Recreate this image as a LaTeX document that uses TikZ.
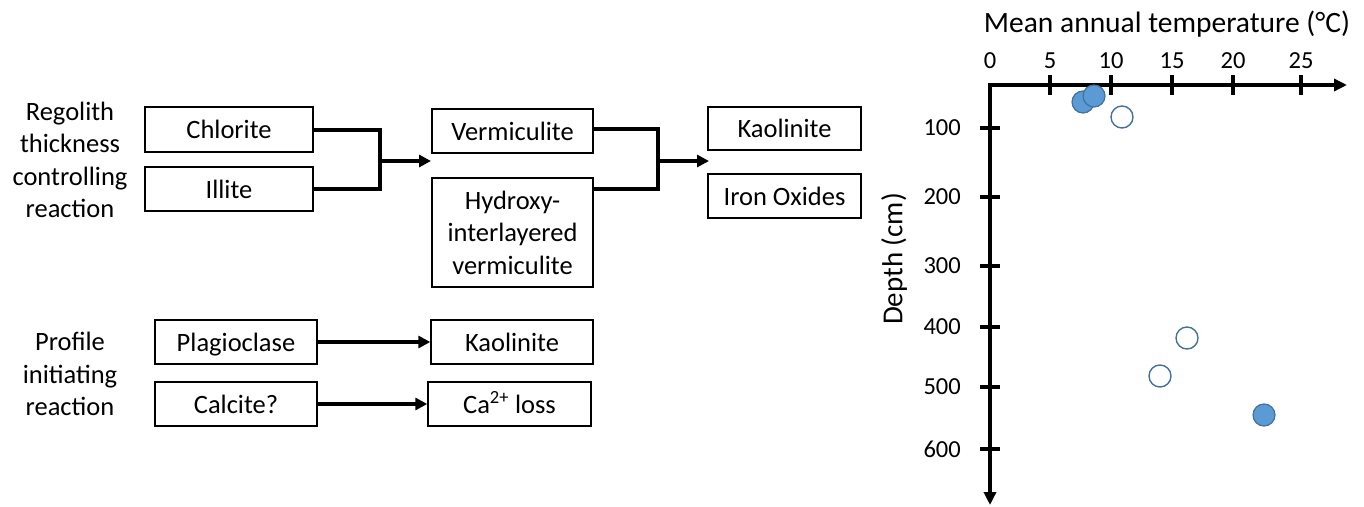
\documentclass[tikz,border=0pt]{standalone}
\usepackage{fontspec}
\setmainfont{Carlito}
\usetikzlibrary{arrows.meta}
\definecolor{ptfill}{HTML}{5B9BD5}
\definecolor{ptline}{HTML}{41719C}
\tikzset{
  box/.style={draw=black, line width=1.4pt, inner sep=0pt, align=center, font=\fontsize{26.5}{32.5}\selectfont},
  oneline/.style={text height=18pt, text depth=0pt},
  lbl/.style={align=center, inner sep=0pt, font=\fontsize{26.5}{32.5}\selectfont},
  conn/.style={line width=4pt},
  arr/.style={line width=4pt, -{Triangle[length=12pt,width=12pt]}},
  axis/.style={line width=4pt},
  tick/.style={line width=3.6pt},
  ticklbl/.style={inner sep=0pt, font=\fontsize{24.5}{28}\selectfont},
  filled/.style={circle, draw=ptline, fill=ptfill, line width=1.2pt, minimum size=22pt, inner sep=0pt},
  hollow/.style={circle, draw=ptline, fill=white, line width=1.4pt, minimum size=22pt, inner sep=0pt}
}
\begin{document}
\begin{tikzpicture}[x=1pt,y=-1pt]
\useasboundingbox (0,0) rectangle (1364,506);
% left labels
\node[lbl] (lab1) at (70,160) {Regolith\\thickness\\controlling\\reaction};
\node[lbl] (lab2) at (70,374) {Profile\\initiating\\reaction};
% top flow boxes
\node[box, oneline, minimum width=168pt, minimum height=45pt] (chl) at (229,129.5) {Chlorite};
\node[box, oneline, minimum width=168pt, minimum height=44pt] (ill) at (229,189) {Illite};
\node[box, oneline, minimum width=161pt, minimum height=44pt] (ver) at (512.5,131) {Vermiculite};
\node[box, minimum width=161pt, minimum height=109pt] (hyd) at (512.5,232.5) {Hydroxy-\\interlayered\\vermiculite};
\node[box, oneline, minimum width=153pt, minimum height=43pt] (kao1) at (784.5,128.5) {Kaolinite};
\node[box, oneline, minimum width=153pt, minimum height=44pt] (iron) at (784.5,196) {Iron Oxides};
% bottom flow boxes
\node[box, oneline, minimum width=162pt, minimum height=44pt] (pla) at (236,342) {Plagioclase};
\node[box, oneline, minimum width=162pt, minimum height=44pt] (cal) at (236,404) {Calcite?};
\node[box, oneline, minimum width=162pt, minimum height=44pt] (kao2) at (512,342) {Kaolinite};
\node[box, oneline, minimum width=163pt, minimum height=44pt] (ca) at (509.5,404) {Ca\textsuperscript{2+} loss};
% connectors
\coordinate (j1) at (380,161);
\coordinate (t1) at (431,161);
\draw[conn] (chl.east) -| (j1) |- (ill.east);
\draw[arr] (j1) -- (t1);
\coordinate (v1) at (593,129);
\coordinate (h1) at (593,189);
\coordinate (j2) at (658,161);
\coordinate (t2) at (709,161);
\draw[conn] (v1) -| (j2) |- (h1);
\draw[arr] (j2) -- (t2);
\draw[arr] (pla.east) -- (kao2.west);
\draw[arr] (cal.east) -- (ca.west);
% chart
\coordinate (o) at (990,85);
\coordinate (xe) at (1347,85);
\coordinate (ye) at (990,505);
\draw[axis, -{Triangle[length=13pt,width=12pt]}] ([xshift=-2pt]o) -- (xe);
\draw[axis, -{Triangle[length=13pt,width=12pt]}] ([yshift=-2pt]o) -- (ye);
\foreach \x/\t in {1050/5,1111/10,1172/15,1233/20,1301/25}{
  \draw[tick] (\x,75) -- (\x,95);
  \node[ticklbl] at (\x,61) {\t};
}
\node[ticklbl] (x0) at (990,61) {0};
\foreach \y/\t in {128/100,197/200,266/300,327/400,387/500,449/600}{
  \draw[tick] (980,\y) -- (1000,\y);
  \node[ticklbl, anchor=east] at (961,\y) {\t};
}
\node[inner sep=0pt, font=\fontsize{29.5}{34}\selectfont] (xt) at (1167,24) {Mean annual temperature (°C)};
\node[inner sep=0pt, rotate=90, font=\fontsize{29}{34}\selectfont] (yt) at (894,259) {Depth (cm)};
% data points
\node[filled] (p1) at (1083,102) {};
\node[filled] (p2) at (1094,96) {};
\node[hollow] (p3) at (1122,117) {};
\node[hollow] (p4) at (1187,338) {};
\node[hollow] (p5) at (1160,376) {};
\node[filled] (p6) at (1264,415) {};
\end{tikzpicture}
\end{document}
